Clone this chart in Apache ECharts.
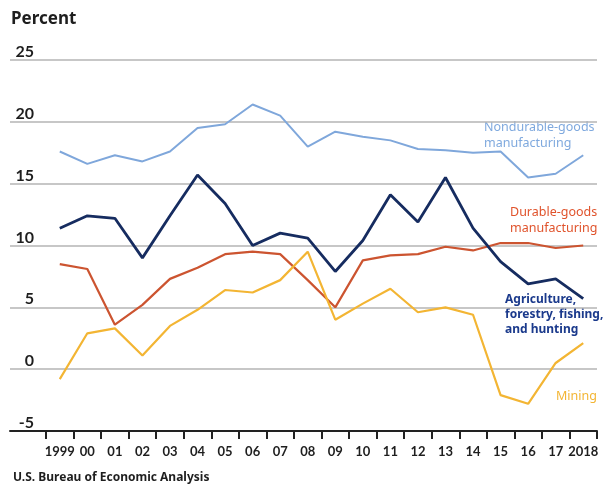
<!DOCTYPE html>
<html>
<head>
<meta charset="utf-8">
<script src="https://cdn.jsdelivr.net/npm/echarts@6/dist/echarts.min.js"></script>
<style>
  html, body { margin: 0; padding: 0; background: #fff; }
  #chart { width: 603px; height: 487px; }
</style>
</head>
<body>
<div id="chart"></div>
<script>
// years along the x axis
var years = ['1999', '00', '01', '02', '03', '04', '05', '06', '07', '08', '09',
  '10', '11', '12', '13', '14', '15', '16', '17', '2018']

// percent
var nondurable = [17.6, 16.6, 17.3, 16.8, 17.6, 19.5, 19.8, 21.4, 20.5, 18.0,
  19.2, 18.8, 18.5, 17.8, 17.7, 17.5, 17.6, 15.5, 15.8, 17.3]
var durable = [8.5, 8.1, 3.6, 5.2, 7.3, 8.2, 9.3, 9.5, 9.3, 7.2,
  5.0, 8.8, 9.2, 9.3, 9.9, 9.6, 10.2, 10.2, 9.8, 10.0]
var mining = [-0.8, 2.9, 3.3, 1.1, 3.5, 4.8, 6.4, 6.2, 7.2, 9.5,
  4.0, 5.3, 6.5, 4.6, 5.0, 4.4, -2.1, -2.8, 0.5, 2.1]
var agriculture = [11.4, 12.4, 12.2, 9.0, 12.4, 15.7, 13.4, 10.0, 11.0, 10.6,
  7.9, 10.4, 14.1, 11.9, 15.5, 11.4, 8.7, 6.9, 7.3, 5.7]

var yTicks = { min: -5, max: 25, interval: 5 }

var font = 'Lato, "Noto Sans", sans-serif'
var wideFont = '"Noto Sans", Lato, sans-serif'

var myChart = echarts.init(document.getElementById('chart'))
var option = {
  animation: false,
  textStyle: { fontFamily: font },
  title: {
    text: 'Percent',
    left: 11,
    top: 11,
    padding: 0,
    textStyle: { fontSize: 17, fontWeight: 'bold', color: '#1e1e1e', fontFamily: wideFont }
  },
  grid: [
    // wide grid: horizontal rules + y labels + baseline
    { left: 10, right: 6, top: 60, bottom: 56 },
    // narrower grid: the yearly categories and the lines
    { left: 46, right: 6, top: 60, bottom: 56 }
  ],
  xAxis: [
    {
      gridIndex: 0,
      type: 'value',
      min: 0,
      max: 1,
      axisLine: { show: true, onZero: false, lineStyle: { color: '#222', width: 2 } },
      axisTick: { show: false },
      axisLabel: { show: false },
      splitLine: { show: false }
    },
    {
      gridIndex: 1,
      type: 'category',
      data: years,
      boundaryGap: true,
      axisLine: { show: false, onZero: false },
      axisTick: { show: true, length: 8, lineStyle: { color: '#222', width: 2 } },
      axisLabel: {
        interval: 0,
        margin: 14,
        color: '#1e1e1e',
        fontSize: 13,
        fontWeight: 'bold',
        fontFamily: font
      },
      splitLine: { show: false }
    }
  ],
  yAxis: [
    {
      gridIndex: 0,
      type: 'value',
      min: yTicks.min,
      max: yTicks.max,
      interval: yTicks.interval,
      axisLine: { show: false },
      axisTick: { show: false },
      axisLabel: {
        inside: true,
        align: 'right',
        verticalAlign: 'bottom',
        margin: 24,
        color: '#1e1e1e',
        fontSize: 16,
        fontWeight: 'bold',
        fontFamily: font
      },
      splitLine: { show: true, lineStyle: { color: '#b4b4b4', width: 1.5 } }
    },
    {
      gridIndex: 1,
      type: 'value',
      min: yTicks.min,
      max: yTicks.max,
      interval: yTicks.interval,
      show: false
    }
  ],
  series: [
    {
      name: 'Nondurable-goods manufacturing',
      type: 'line',
      xAxisIndex: 1,
      yAxisIndex: 1,
      data: nondurable,
      symbol: 'none',
      lineStyle: { color: '#7fa7db', width: 2 }
    },
    {
      name: 'Durable-goods manufacturing',
      type: 'line',
      xAxisIndex: 1,
      yAxisIndex: 1,
      data: durable,
      symbol: 'none',
      lineStyle: { color: '#cc5430', width: 2.2 }
    },
    {
      name: 'Mining',
      type: 'line',
      xAxisIndex: 1,
      yAxisIndex: 1,
      data: mining,
      symbol: 'none',
      lineStyle: { color: '#f3b533', width: 2.2 }
    },
    {
      name: 'Agriculture, forestry, fishing, and hunting',
      type: 'line',
      xAxisIndex: 1,
      yAxisIndex: 1,
      data: agriculture,
      symbol: 'none',
      lineStyle: { color: '#162c60', width: 2.8 }
    }
  ],
  graphic: [
    {
      type: 'text', left: 484, top: 119,
      style: { text: 'Nondurable-goods\nmanufacturing', fill: '#7fa9de', fontSize: 12.5, lineHeight: 16, fontFamily: wideFont }
    },
    {
      type: 'text', left: 510, top: 204,
      style: { text: 'Durable-goods\nmanufacturing', fill: '#e0532c', fontSize: 12.5, lineHeight: 16.5, fontFamily: wideFont }
    },
    {
      type: 'text', left: 505, top: 292,
      style: { text: 'Agriculture,\nforestry, fishing,\nand hunting', fill: '#1b3a8c', fontSize: 12, fontWeight: 'bold', lineHeight: 15, fontFamily: wideFont }
    },
    {
      type: 'text', left: 556, top: 390,
      style: { text: 'Mining', fill: '#f3b533', fontSize: 12.5, fontFamily: wideFont }
    },
    {
      type: 'text', left: 13, top: 472,
      style: { text: 'U.S. Bureau of Economic Analysis', fill: '#1e1e1e', fontSize: 12, fontWeight: 'bold', fontFamily: wideFont }
    }
  ]
}
option && myChart.setOption(option)
</script>
</body>
</html>
